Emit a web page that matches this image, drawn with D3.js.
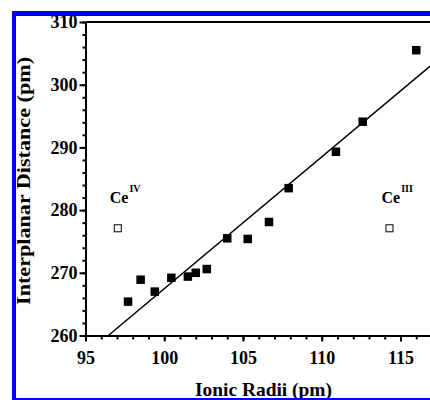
<!DOCTYPE html>
<html lang="en">
<head>
    <meta charset="UTF-8">
    <title>Interplanar Distance vs Ionic Radii</title>
    <style>
        body {
            margin: 0;
            padding: 0;
            background-color: #ffffff;
        }

        #chart svg {
            display: block;
        }

        .axis text {
            font-family: "Liberation Serif", "Times New Roman", serif;
            font-weight: bold;
            font-size: 18px;
            fill: #000;
        }
    </style>
</head>
<body>

<div id="chart"></div>

<script src="https://d3js.org/d3.v7.min.js"></script>
<script>
    // Filled squares: lanthanide series
    const radii = [97.7, 98.5, 99.4, 100.45, 101.5, 102.0, 102.7, 104.0, 105.3, 106.65, 107.9, 110.9, 112.6, 116.0];
    const distances = [265.4, 268.9, 267.0, 269.2, 269.4, 270.0, 270.6, 275.5, 275.4, 278.1, 283.5, 289.3, 294.1, 305.5];

    // Open squares: cerium
    const ceLabels = ["IV", "III"];
    const ceRadii = [97.05, 114.3];
    const ceDistances = [277.1, 277.1];

    // Linear fit endpoints
    const fitX = [96.45, 118];
    const fitY = [260, 305.3];

    const xMajor = [95, 100, 105, 110, 115];
    const yMajor = [260, 270, 280, 290, 300, 310];

    const width = 430,
          height = 400;

    const svg = d3.select("#chart").append("svg")
        .attr("width", width)
        .attr("height", height);

    // Scales
    const x = d3.scaleLinear().domain([95, 120]).range([85.5, 85.5 + 25 * 15.75]);
    const y = d3.scaleLinear().domain([260, 310]).range([335.5, 22]);

    // Top frame line
    svg.append("line")
        .attr("x1", x(95)).attr("x2", width + 10)
        .attr("y1", y(310)).attr("y2", y(310))
        .attr("stroke", "#000")
        .attr("stroke-width", 2);

    // Minor ticks
    svg.append("g")
        .attr("transform", `translate(0,${y(260)})`)
        .call(d3.axisBottom(x).tickValues(d3.range(95, 121, 1)).tickSize(4).tickFormat(""))
        .call(g => g.select(".domain").remove());

    svg.append("g")
        .attr("transform", `translate(${x(95)},0)`)
        .call(d3.axisLeft(y).tickValues(d3.range(260, 311, 2)).tickSize(3).tickFormat(""))
        .call(g => g.select(".domain").remove());

    // Major axes
    const xAxis = svg.append("g")
        .attr("class", "axis")
        .attr("transform", `translate(0,${y(260)})`)
        .call(d3.axisBottom(x).tickValues(xMajor).tickSize(6).tickSizeOuter(0).tickPadding(10));

    const yAxis = svg.append("g")
        .attr("class", "axis")
        .attr("transform", `translate(${x(95)},0)`)
        .call(d3.axisLeft(y).tickValues(yMajor).tickSize(6).tickSizeOuter(0).tickPadding(2));

    svg.selectAll(".axis .domain").attr("stroke-width", 2);
    svg.selectAll("g line").attr("stroke-width", 2);

    // Fit line
    const line = d3.line()
        .x(d => x(d[0]))
        .y(d => y(d[1]));

    svg.append("path")
        .datum(d3.zip(fitX, fitY))
        .attr("d", line)
        .attr("fill", "none")
        .attr("stroke", "#000")
        .attr("stroke-width", 1.5);

    // Filled squares
    const s = 8.5;
    svg.append("g")
        .selectAll("rect")
        .data(d3.zip(radii, distances))
        .join("rect")
        .attr("x", d => x(d[0]) - s / 2)
        .attr("y", d => y(d[1]) - s / 2)
        .attr("width", s)
        .attr("height", s)
        .attr("fill", "#000");

    // Open squares for Ce
    const o = 7;
    const ce = d3.zip(ceRadii, ceDistances, ceLabels);
    svg.append("g")
        .selectAll("rect")
        .data(ce)
        .join("rect")
        .attr("x", d => x(d[0]) - o / 2)
        .attr("y", d => y(d[1]) - o / 2)
        .attr("width", o)
        .attr("height", o)
        .attr("fill", "#fff")
        .attr("stroke", "#000")
        .attr("stroke-width", 1);

    const ceText = svg.append("g")
        .selectAll("text")
        .data(ce)
        .join("text")
        .attr("x", d => x(d[0]) - 8)
        .attr("y", d => y(d[1]) - 25)
        .style("font-family", "'Liberation Serif', serif")
        .style("font-weight", "bold")
        .style("font-size", "16px");
    ceText.append("tspan").text("Ce");
    ceText.append("tspan")
        .attr("dy", -11)
        .attr("dx", 1)
        .style("font-size", "10px")
        .text(d => d[2]);

    // Axis titles
    svg.append("text")
        .attr("transform", "translate(29.5,181) rotate(-90)")
        .attr("text-anchor", "middle")
        .attr("textLength", 248)
        .attr("lengthAdjust", "spacingAndGlyphs")
        .style("font-family", "'Liberation Serif', serif")
        .style("font-weight", "bold")
        .style("font-size", "19px")
        .text("Interplanar Distance (pm)");

    svg.append("text")
        .attr("x", 195)
        .attr("y", 396)
        .attr("textLength", 137)
        .attr("lengthAdjust", "spacingAndGlyphs")
        .style("font-family", "'Liberation Serif', serif")
        .style("font-weight", "bold")
        .style("font-size", "19px")
        .text("Ionic Radii (pm)");

    // Blue border
    const blue = "#0000ee";
    svg.append("rect").attr("x", 12).attr("y", 11).attr("width", 4).attr("height", height).attr("fill", blue);
    svg.append("rect").attr("x", 12).attr("y", 11).attr("width", width).attr("height", 5).attr("fill", blue);
    svg.append("rect").attr("x", 12).attr("y", 398).attr("width", width).attr("height", 3).attr("fill", blue);
</script>

</body>
</html>
